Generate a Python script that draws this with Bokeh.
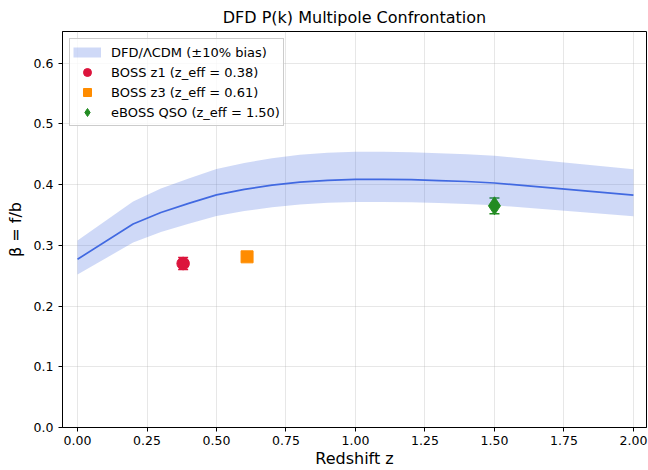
from bokeh.plotting import figure
from bokeh.models import ColumnDataSource, Range1d, FixedTicker, NumeralTickFormatter, Whisker, Legend, LegendItem, TeeHead
from bokeh.embed import file_html
from bokeh.resources import INLINE

# Model curve (DFD/LCDM) beta = f/b
z_model = [0.0, 0.2, 0.3, 0.4, 0.5, 0.6, 0.7, 0.8, 0.9, 1.0, 1.1, 1.2, 1.3, 1.4, 1.5, 2.0]
beta_model = [0.277, 0.335, 0.354, 0.369, 0.383, 0.392, 0.399, 0.404, 0.407, 0.4085,
              0.4085, 0.408, 0.4065, 0.405, 0.4026, 0.3827]
beta_upper = [b / 0.9 for b in beta_model]
beta_lower = [b / 1.1 for b in beta_model]

# Data points
boss_z1_z = [0.38]
boss_z1_beta = [0.270]
boss_z1_err = [0.010]
boss_z3_z = [0.61]
boss_z3_beta = [0.281]
eboss_z = [1.50]
eboss_beta = [0.365]
eboss_err = [0.013]

x_ticks = [0.0, 0.25, 0.5, 0.75, 1.0, 1.25, 1.5, 1.75, 2.0]
y_ticks = [0.0, 0.1, 0.2, 0.3, 0.4, 0.5, 0.6]

FONT = "DejaVu Sans"

p = figure(width=648, height=470, output_backend="svg", toolbar_location=None,
           x_range=Range1d(-0.054, 2.047), y_range=Range1d(0.0, 0.652),
           min_border_left=62, min_border_right=2, min_border_top=30, min_border_bottom=40,
           title="DFD P(k) Multipole Confrontation")
p.title.align = "center"
p.title.text_font = FONT
p.title.text_font_size = "16px"
p.title.text_font_style = "normal"
p.title.text_color = "black"

p.outline_line_color = "black"
p.outline_line_width = 1
for ax in (p.xaxis, p.yaxis):
    ax.axis_line_color = "black"
    ax.major_tick_line_color = "black"
    ax.minor_tick_line_color = None
    ax.major_tick_in = 0
    ax.major_tick_out = 4
    ax.major_label_text_font = FONT
    ax.major_label_text_font_size = "12.5px"
    ax.major_label_text_color = "black"
    ax.axis_label_text_font = FONT
    ax.axis_label_text_font_size = "16px"
    ax.axis_label_text_font_style = "normal"
    ax.axis_label_text_color = "black"
p.xaxis.ticker = FixedTicker(ticks=x_ticks)
p.yaxis.ticker = FixedTicker(ticks=y_ticks)
p.xaxis.formatter = NumeralTickFormatter(format="0.00")
p.yaxis.formatter = NumeralTickFormatter(format="0.0")
p.xaxis.axis_label = "Redshift z"
p.yaxis.axis_label = "β = f/b"
p.xaxis.major_label_standoff = 4
p.xaxis.axis_label_standoff = 1
p.yaxis.axis_label_standoff = 6

p.xgrid.ticker = FixedTicker(ticks=x_ticks)
p.ygrid.ticker = FixedTicker(ticks=y_ticks)
p.grid.grid_line_color = "#b0b0b0"
p.grid.grid_line_alpha = 0.3

src_model = ColumnDataSource(dict(z=z_model, beta=beta_model, lo=beta_lower, hi=beta_upper))
band = p.varea(x="z", y1="lo", y2="hi", source=src_model, fill_color="#4169e1", fill_alpha=0.25)
line = p.line(x="z", y="beta", source=src_model, line_color="#4169e1", line_width=1.7)
# legend proxy for the band (thick translucent stroke; a single point draws nothing on the plot)
band_proxy = p.line(x=z_model[:1], y=beta_model[:1], line_color="#4169e1", line_alpha=0.25, line_width=10)

src_z1 = ColumnDataSource(dict(z=boss_z1_z, beta=boss_z1_beta,
                               lo=[b - e for b, e in zip(boss_z1_beta, boss_z1_err)],
                               hi=[b + e for b, e in zip(boss_z1_beta, boss_z1_err)]))
src_z3 = ColumnDataSource(dict(z=boss_z3_z, beta=boss_z3_beta))
src_qso = ColumnDataSource(dict(z=eboss_z, beta=eboss_beta,
                                lo=[b - e for b, e in zip(eboss_beta, eboss_err)],
                                hi=[b + e for b, e in zip(eboss_beta, eboss_err)]))

w1 = Whisker(base="z", lower="lo", upper="hi", source=src_z1, line_color="#dc143c", line_width=1.5,
             upper_head=TeeHead(size=10, line_color="#dc143c", line_width=1.5),
             lower_head=TeeHead(size=10, line_color="#dc143c", line_width=1.5))
w2 = Whisker(base="z", lower="lo", upper="hi", source=src_qso, line_color="#228b22", line_width=1.5,
             upper_head=TeeHead(size=10, line_color="#228b22", line_width=1.5),
             lower_head=TeeHead(size=10, line_color="#228b22", line_width=1.5))
p.add_layout(w1)
p.add_layout(w2)

r1 = p.scatter(x="z", y="beta", source=src_z1, marker="circle", size=12.5,
               fill_color="#dc143c", line_color="#dc143c")
r3 = p.scatter(x="z", y="beta", source=src_z3, marker="square", size=12,
               fill_color="#ff8c00", line_color="#ff8c00")
r2 = p.scatter(x="z", y="beta", source=src_qso, marker="diamond", size=18,
               fill_color="#228b22", line_color="#228b22")

legend = Legend(items=[
    LegendItem(label="DFD/ΛCDM (±10% bias)", renderers=[band_proxy]),
    LegendItem(label="BOSS z1 (z_eff = 0.38)", renderers=[r1]),
    LegendItem(label="BOSS z3 (z_eff = 0.61)", renderers=[r3]),
    LegendItem(label="eBOSS QSO (z_eff = 1.50)", renderers=[r2]),
], location="top_left")
legend.label_text_font = FONT
legend.label_text_font_size = "13px"
legend.label_text_color = "black"
legend.label_height = 14
legend.glyph_height = 20
legend.glyph_width = 28
legend.spacing = 0
legend.padding = 3
legend.margin = 7
legend.label_standoff = 10
legend.border_line_color = "#cccccc"
legend.border_line_alpha = 1.0
legend.background_fill_alpha = 0.8
p.add_layout(legend)

open("out.html", "w").write(file_html(p, INLINE))
